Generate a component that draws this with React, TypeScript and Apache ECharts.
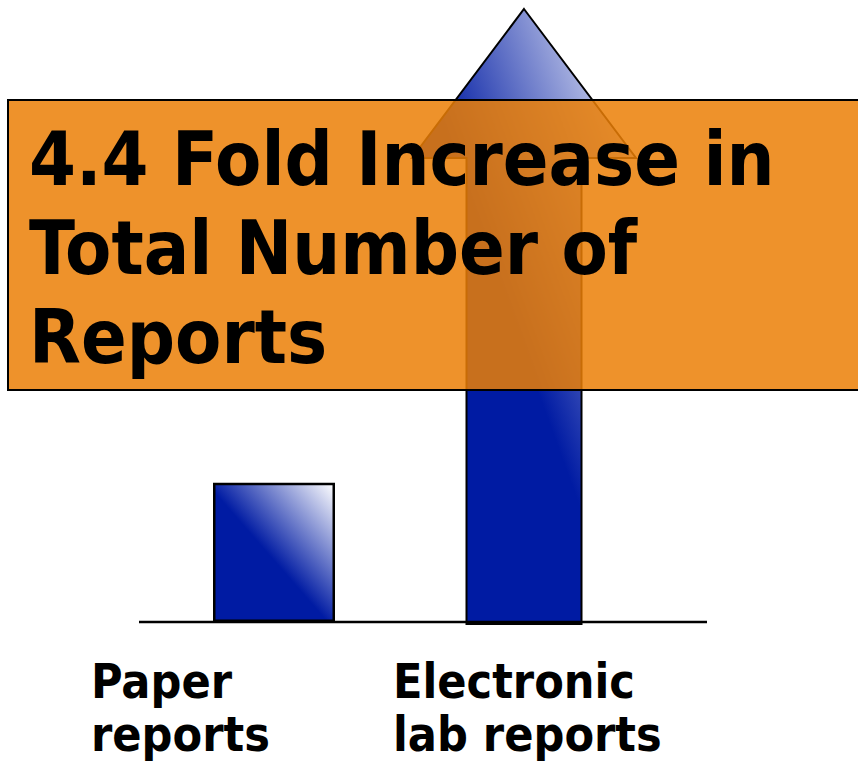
import React, { useEffect, useRef } from "react";
import * as echarts from "echarts";

const categories = ["Paper\nreports", "Electronic\nlab reports"];
const values = [1, 4.4];
const titleText = "4.4 Fold Increase in\nTotal Number of\nReports";
const labelLefts = [91, 393];

const FONT = "'DejaVu Sans Condensed', 'DejaVu Sans', sans-serif";

function blueGradient() {
  return new echarts.graphic.LinearGradient(0, 1, 1, 0, [
    { offset: 0, color: "#001ba3" },
    { offset: 0.47, color: "#001ba3" },
    { offset: 1, color: "#ffffff" },
  ]);
}

export default function App() {
  const ref = useRef<HTMLDivElement>(null);
  useEffect(() => {
    if (!ref.current) return;
    const chart = echarts.init(ref.current, undefined, { renderer: "svg" });
    const option: any = {
      animation: false,
      backgroundColor: "#ffffff",
      grid: { left: 149, right: 209, top: 9, bottom: 142 },
      xAxis: {
        type: "category",
        data: categories,
        axisLine: { show: false },
        axisTick: { show: false },
        axisLabel: { show: false },
        splitLine: { show: false },
      },
      yAxis: {
        type: "value",
        min: 0,
        max: 4.4,
        show: false,
        splitLine: { show: false },
      },
      series: [
        {
          type: "bar",
          name: categories[0],
          data: [values[0], "-"],
          barWidth: 122,
          itemStyle: {
            color: blueGradient(),
            borderColor: "#000000",
            borderWidth: 2.5,
          },
          z: 2,
        },
        {
          type: "custom",
          name: categories[1],
          data: [[1, values[1]]],
          encode: { x: 0, y: 1 },
          z: 2,
          renderItem: (params: any, api: any) => {
            const idx = api.value(0);
            const v = api.value(1);
            const top = api.coord([idx, v]);
            const base = api.coord([idx, 0]);
            const cx = top[0];
            const yTop = top[1];
            const yBase = base[1] + 2;
            const headH = 149;
            const headHalf = 112;
            const shaftHalf = 57.5;
            const yHead = yTop + headH;
            const points = [
              [cx, yTop],
              [cx + headHalf, yHead],
              [cx + shaftHalf, yHead],
              [cx + shaftHalf, yBase],
              [cx - shaftHalf, yBase],
              [cx - shaftHalf, yHead],
              [cx - headHalf, yHead],
            ];
            return {
              type: "polygon",
              shape: { points },
              style: {
                fill: blueGradient(),
                stroke: "#000000",
                lineWidth: 2,
              },
            };
          },
        },
      ],
      graphic: [
        {
          type: "line",
          z: 50,
          shape: { x1: 139, y1: 622, x2: 707, y2: 622 },
          style: { stroke: "#000000", lineWidth: 2.5 },
        },
        {
          type: "rect",
          z: 100,
          shape: { x: 8, y: 100, width: 860, height: 290 },
          style: {
            fill: "rgba(235,127,6,0.85)",
            stroke: "#000000",
            lineWidth: 2,
          },
        },
        {
          type: "text",
          z: 101,
          x: 29,
          y: 114,
          style: {
            text: titleText,
            fontFamily: FONT,
            fontWeight: "bold",
            fontSize: 75,
            lineHeight: 89,
            fill: "#000000",
            textAlign: "left",
            textVerticalAlign: "top",
          },
        },
        ...categories.map((c, i) => ({
          type: "text",
          z: 101,
          x: labelLefts[i],
          y: 654,
          style: {
            text: c,
            fontFamily: FONT,
            fontWeight: "bold",
            fontSize: 48,
            lineHeight: 53,
            fill: "#000000",
            textAlign: "left",
            textVerticalAlign: "top",
          },
        })),
      ],
    };
    chart.setOption(option);
    return () => chart.dispose();
  }, []);
  return (
    <div
      ref={ref}
      style={{ position: "fixed", left: 0, top: 0, width: 858, height: 764 }}
    />
  );
}
